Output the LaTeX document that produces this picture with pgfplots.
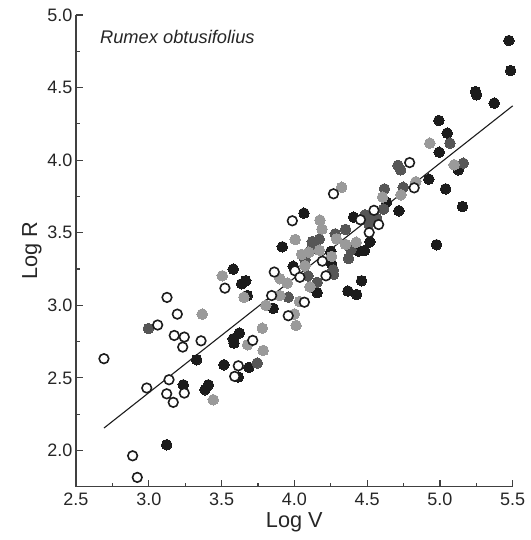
\documentclass[border=0pt]{standalone}
\usepackage{pgfplots}
\pgfplotsset{compat=1.18}
\usepackage{fontspec}
\setmainfont{Liberation Sans}
\definecolor{cblack}{HTML}{1C1C1C}
\definecolor{cdark}{HTML}{565656}
\definecolor{clight}{HTML}{9A9A9A}
\definecolor{caxis}{HTML}{404040}
\begin{document}
\begin{tikzpicture}
\path[use as bounding box] (-76pt,-53.3pt) rectangle (454pt,486.7pt);
\begin{axis}[
  at={(0,0)}, anchor=south west,
  scale only axis, width=436.7pt, height=471.7pt,
  xmin=2.5, xmax=5.5, ymin=1.75, ymax=5.0,
  axis x line=bottom, axis y line=left,
  axis line style={-, line width=1.4pt, color=caxis},
  tick align=inside,
  major tick length=7pt, minor tick length=4pt,
  every tick/.style={line width=1.2pt, color=caxis},
  xtick={2.5,3.0,...,5.5}, ytick={2.0,2.5,...,5.0},
  minor x tick num=1, minor y tick num=1,
  /pgf/number format/assume math mode=true,
  /pgf/number format/.cd, fixed, fixed zerofill, precision=1, /pgfplots/.cd,
  ticklabel style={font=\fontsize{18}{20}\selectfont, color=black!85},
  xticklabel style={yshift=-3pt},
  xlabel={Log V}, ylabel={Log R},
  label style={font=\fontsize{21.7}{24}\selectfont, color=black!85},
  xlabel style={yshift=0pt},
  ylabel style={yshift=-1pt},
  clip=false,
]
% black
\addplot[only marks, mark=*, mark size=5.3pt, mark options={fill=cblack, draw=cblack, line width=0pt}] coordinates {
(5.474,4.824) (5.486,4.617) (5.245,4.472) (5.252,4.450) (5.373,4.393)
(4.993,4.273) (5.050,4.186) (4.995,4.055) (5.126,3.933) (4.924,3.869)
(5.039,3.802) (5.155,3.680) (4.977,3.417) (4.633,3.711) (4.718,3.651)
(4.066,3.635) (4.407,3.607) (4.519,3.437) (3.917,3.403) (4.442,3.373)
(4.481,3.377) (4.251,3.371) (4.256,3.286) (3.992,3.269) (4.157,3.087)
(4.462,3.169) (4.368,3.098) (4.428,3.074) (3.580,3.249) (3.638,3.148)
(3.666,3.169) (3.677,3.067) (3.855,2.979) (3.580,2.769) (3.622,2.809)
(3.585,2.740) (3.516,2.590) (3.688,2.572) (3.615,2.506) (3.329,2.625)
(3.237,2.452) (3.409,2.452) (3.386,2.418) (3.123,2.039)
};
% dark gray
\addplot[only marks, mark=*, mark size=5.3pt, mark options={fill=cdark, draw=cdark, line width=0pt}] coordinates {
(5.069,4.117) (5.160,3.979) (4.712,3.964) (4.730,3.933) (4.748,3.813)
(4.619,3.802) (4.613,3.663) (4.485,3.623) (4.526,3.592) (4.565,3.601)
(4.512,3.561) (4.352,3.523) (4.281,3.492) (4.171,3.456) (4.123,3.439)
(4.128,3.417) (4.114,3.382) (4.389,3.382) (4.373,3.322) (4.073,3.313)
(4.267,3.244) (4.270,3.213) (4.093,3.203) (4.157,3.158) (3.958,3.056)
(3.745,2.602) (2.997,2.840)
};
% light gray
\addplot[only marks, mark=*, mark size=5.3pt, mark options={fill=clight, draw=clight, line width=0pt}] coordinates {
(4.931,4.117) (5.098,3.968) (4.834,3.851) (4.732,3.761) (4.606,3.745)
(4.325,3.813) (4.176,3.587) (4.190,3.525) (4.006,3.453) (4.289,3.458)
(4.352,3.420) (4.425,3.434) (4.050,3.351) (4.100,3.365) (4.172,3.379)
(4.256,3.337) (4.073,3.272) (3.951,3.153) (4.107,3.127) (3.901,3.183)
(4.035,3.026) (4.001,2.940) (4.012,2.861) (3.901,3.067) (3.654,3.056)
(3.505,3.203) (3.804,3.000) (3.780,2.842) (3.786,2.689) (3.679,2.728)
(3.367,2.939) (3.443,2.349)
};
% open
\addplot[only marks, mark=*, mark size=4.8pt, mark options={fill=white, draw=cblack, line width=1.6pt}] coordinates {
(4.792,3.983) (4.823,3.809) (4.269,3.768) (3.986,3.582) (4.547,3.654)
(4.454,3.589) (4.579,3.556) (4.514,3.501) (4.192,3.304) (4.217,3.203)
(4.004,3.238) (4.038,3.193) (4.069,3.021) (3.862,3.229) (3.844,3.067)
(3.958,2.928) (3.523,3.118) (3.125,3.054) (3.196,2.939) (3.061,2.864)
(3.175,2.792) (3.244,2.781) (3.233,2.712) (3.359,2.755) (2.692,2.632)
(3.139,2.487) (3.244,2.395) (2.986,2.430) (3.123,2.390) (3.168,2.331)
(2.889,1.963) (2.921,1.814) (3.615,2.583) (3.590,2.510) (3.714,2.758)
};
% regression line
\addplot[no marks, line width=1.1pt, color=cblack] coordinates {(2.692,2.154) (5.5,4.374)};
\node[anchor=west, font=\fontsize{18.3}{20}\selectfont\itshape, color=black!85] at (rel axis cs:0.047,0.953) {Rumex obtusifolius};
\end{axis}
\end{tikzpicture}
\end{document}
